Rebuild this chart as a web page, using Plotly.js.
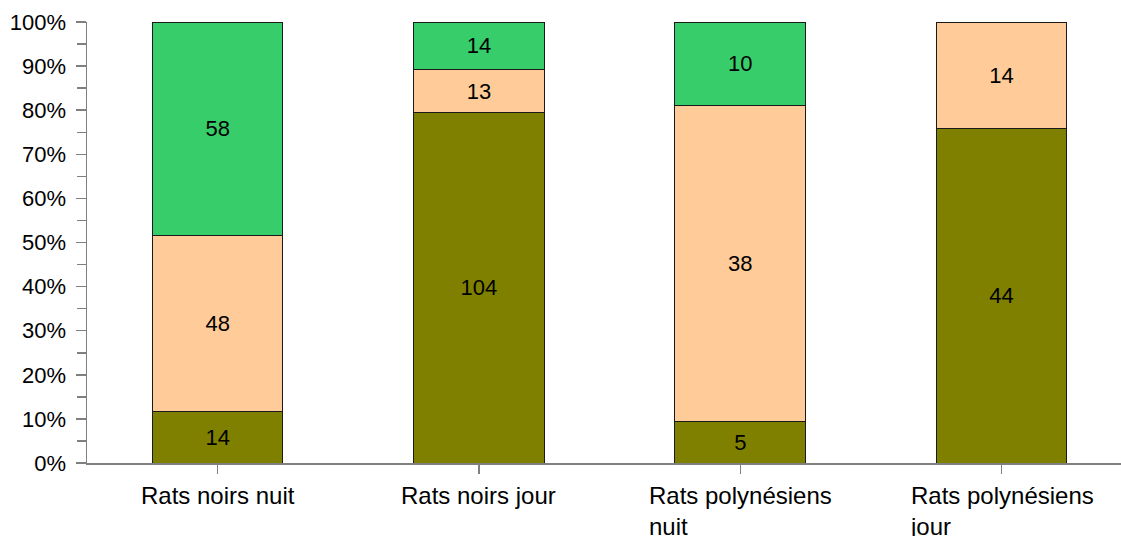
<!DOCTYPE html>
<html>
<head>
<meta charset="utf-8">
<script src="https://cdn.plot.ly/plotly-3.0.1.min.js"></script>
<style>html,body{margin:0;padding:0;background:#fff;}#chart{width:1121px;height:536px;}</style>
</head>
<body>
<div id="chart"></div>
<script>
var categories = ["Rats noirs nuit", "Rats noirs jour", "Rats polynésiens nuit", "Rats polynésiens jour"];
var categoryLabels = ["Rats noirs nuit", "Rats noirs jour", "Rats polynésiens<br>nuit", "Rats polynésiens<br>jour"];
var seriesOlive = [14, 104, 5, 44];
var seriesPeach = [48, 13, 38, 14];
var seriesGreen = [58, 14, 10, 0];
var yTickValues = [0, 10, 20, 30, 40, 50, 60, 70, 80, 90, 100];
var yTickLabels = ["0%", "10%", "20%", "30%", "40%", "50%", "60%", "70%", "80%", "90%", "100%"];

function mkTrace(vals, color, name) {
  return {
    type: 'bar',
    name: name,
    x: categories,
    y: vals,
    text: vals.map(function (v) { return v ? String(v) : ''; }),
    texttemplate: '%{text}',
    textposition: 'inside',
    insidetextanchor: 'middle',
    textangle: 0,
    constraintext: 'none',
    textfont: {family: 'Liberation Sans, Arial, sans-serif', size: 22, color: '#000'},
    marker: {color: color, line: {color: '#1a1a1a', width: 1}},
    hoverinfo: 'none'
  };
}

var data = [
  mkTrace(seriesOlive, '#808000', 'a'),
  mkTrace(seriesPeach, '#FFCC99', 'b'),
  mkTrace(seriesGreen, '#37CD6B', 'c')
];

var annotations = categories.map(function (c, i) {
  return {
    x: c, xref: 'x', y: 0, yref: 'paper',
    yanchor: 'top', xanchor: 'center', yshift: -17,
    text: categoryLabels[i], align: 'left', showarrow: false,
    font: {family: 'Liberation Sans, Arial, sans-serif', size: 24, color: '#000'}
  };
});

var layout = {
  width: 1121, height: 536,
  margin: {l: 87, r: 0, t: 22, b: 73},
  paper_bgcolor: '#fff', plot_bgcolor: '#fff',
  barmode: 'stack', barnorm: 'percent', bargap: 0.5,
  showlegend: false,
  font: {family: 'Liberation Sans, Arial, sans-serif', color: '#000'},
  xaxis: {
    type: 'category', range: [-0.5, 3.457],
    showline: true, linecolor: '#808080', linewidth: 1.5,
    ticks: 'outside', ticklen: 9, tickcolor: '#808080', tickwidth: 1.5,
    showticklabels: false, showgrid: false, zeroline: false, fixedrange: true
  },
  yaxis: {
    range: [0, 100], tickmode: 'array', tickvals: yTickValues, ticktext: yTickLabels,
    showline: true, linecolor: '#808080', linewidth: 1.5,
    ticks: 'outside', ticklen: 10, tickcolor: '#808080', tickwidth: 1.5,
    ticklabelstandoff: 5,
    minor: {dtick: 5, ticks: 'outside', ticklen: 9, tickcolor: '#808080', tickwidth: 1.5, showgrid: false},
    tickfont: {size: 22, color: '#000'},
    showgrid: false, zeroline: false, fixedrange: true
  },
  annotations: annotations
};

Plotly.newPlot('chart', data, layout, {displayModeBar: false, staticPlot: true});
</script>
</body>
</html>
